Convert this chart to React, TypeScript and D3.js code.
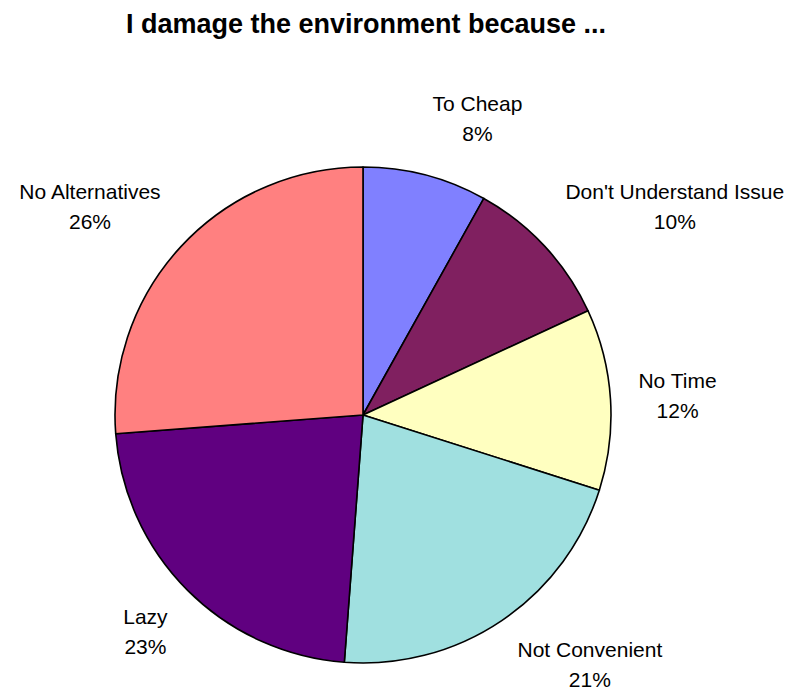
import { useEffect, useRef } from "react";
import * as d3 from "d3";

const categories = [
  "To Cheap",
  "Don't Understand Issue",
  "No Time",
  "Not Convenient",
  "Lazy",
  "No Alternatives",
];
const shares = [8.1, 10.0, 11.8, 21.3, 22.6, 26.2];
const colors = ["#8080FF", "#802060", "#FFFFC0", "#A0E0E0", "#600080", "#FF8080"];

const title = "I damage the environment because ...";

const width = 787;
const height = 692;
const font = "'Liberation Sans', Arial, sans-serif";

export default function App() {
  const svgRef = useRef<SVGSVGElement>(null);

  useEffect(() => {
    if (!svgRef.current) return;
    const svg = d3.select(svgRef.current);
    svg.selectAll("*").remove();

    const cx = 363;
    const cy = 415;
    const radius = 248;

    const data = categories.map((name, i) => ({ name, value: shares[i], color: colors[i] }));
    type Slice = (typeof data)[number];

    const pie = d3
      .pie<Slice>()
      .value((d) => d.value)
      .sort(null);

    const arc = d3.arc<d3.PieArcDatum<Slice>>().innerRadius(0).outerRadius(radius);

    const g = svg.append("g").attr("transform", `translate(${cx}, ${cy})`);
    const arcs = pie(data);

    g.selectAll("path")
      .data(arcs)
      .enter()
      .append("path")
      .attr("d", arc)
      .attr("fill", (d) => d.data.color)
      .attr("stroke", "#000")
      .attr("stroke-width", 1.6)
      .attr("stroke-linejoin", "round");

    // Labels outside the pie, pushed away from the edge like Excel does
    const total = d3.sum(shares);
    const lineGap = 30;
    const offset = 28;

    arcs.forEach((d) => {
      const a = (d.startAngle + d.endAngle) / 2;
      const sx = Math.sin(a);
      const sy = -Math.cos(a);

      const label = g
        .append("text")
        .attr("text-anchor", "middle")
        .style("font-family", font)
        .style("font-size", "21px")
        .style("fill", "#000");

      label.append("tspan").attr("x", 0).attr("dy", 0).text(d.data.name);
      label
        .append("tspan")
        .attr("x", 0)
        .attr("dy", lineGap)
        .text(`${Math.round((d.data.value / total) * 100)}%`);

      const w = (label.node() as SVGTextElement).getBBox().width;
      const h = lineGap * 2;
      const ax = (radius + offset) * sx + Math.sign(sx) * (w / 2);
      let ay = (radius + offset) * sy + sy * (h / 2) - 7.5;
      // keep the second line inside the picture
      const maxBaseline = height - cy - 5;
      if (ay + lineGap > maxBaseline) ay = maxBaseline - lineGap;
      label.attr("transform", `translate(${ax}, ${ay})`);
    });

    svg
      .append("text")
      .attr("x", 366)
      .attr("y", 33)
      .attr("text-anchor", "middle")
      .style("font-family", font)
      .style("font-size", "27px")
      .style("font-weight", "bold")
      .style("fill", "#000")
      .text(title);
  }, []);

  return (
    <svg
      ref={svgRef}
      width={width}
      height={height}
      style={{ position: "absolute", left: 0, top: 0, background: "#fff" }}
    />
  );
}
